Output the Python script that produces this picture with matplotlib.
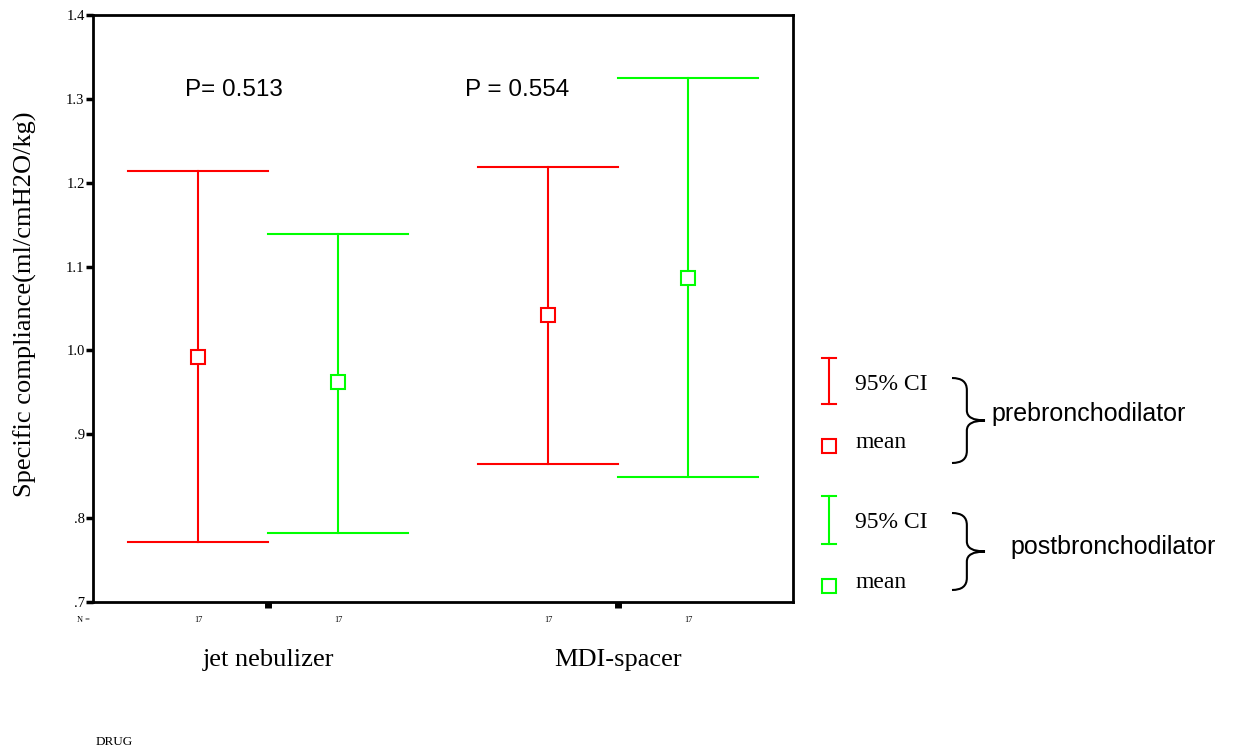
import matplotlib
matplotlib.use("Agg")
import matplotlib.pyplot as plt
from matplotlib.path import Path
from matplotlib.patches import PathPatch
from matplotlib.lines import Line2D

# ---- data ----
groups = ["jet nebulizer", "MDI-spacer"]
series = ["prebronchodilator", "postbronchodilator"]
colors = ["#ff0000", "#00ff00"]
means = [[0.992, 1.042], [0.962, 1.086]]      # [series][group]
lower = [[0.772, 0.865], [0.782, 0.849]]
upper = [[1.214, 1.219], [1.139, 1.325]]
n_values = [[17, 17], [17, 17]]
p_values = ["P= 0.513", "P = 0.554"]
yticks = [0.7, 0.8, 0.9, 1.0, 1.1, 1.2, 1.3, 1.4]
ytick_labels = [".7", ".8", ".9", "1.0", "1.1", "1.2", "1.3", "1.4"]

W, H = 1234, 753
fig = plt.figure(figsize=(W / 100, H / 100), dpi=100)
ax = fig.add_axes([93 / W, 1 - 602 / H, 700 / W, 587 / H])

group_centers = [0.25, 0.75]
offsets = [-0.1, 0.1]
cap = 0.1
serif = "Liberation Serif"
sans = "Liberation Sans"

for s in range(2):
    for g in range(2):
        x = group_centers[g] + offsets[s]
        c = colors[s]
        ax.plot([x, x], [lower[s][g], upper[s][g]], color=c, lw=1.5)
        ax.plot([x - cap, x + cap], [upper[s][g], upper[s][g]], color=c, lw=1.5)
        ax.plot([x - cap, x + cap], [lower[s][g], lower[s][g]], color=c, lw=1.5)
        ax.plot([x], [means[s][g]], marker="s", ms=10, mfc="white", mec=c, mew=1.5)
        ax.text(x, -0.031, str(n_values[s][g]), transform=ax.get_xaxis_transform(),
                ha="center", va="center", fontsize=6, family=serif)

ax.text(-0.005, -0.031, "N =", transform=ax.get_xaxis_transform(),
        ha="right", va="center", fontsize=6, family=serif)

ax.set_xlim(0, 1)
ax.set_ylim(0.7, 1.4)
ax.set_yticks(yticks)
ax.set_yticklabels(ytick_labels, family=serif, fontsize=10.5)
ax.set_xticks(group_centers)
ax.set_xticklabels([])
ax.tick_params(axis="y", direction="out", length=5, width=2.5, pad=1)
ax.tick_params(axis="x", direction="out", length=4, width=5, pad=3)
for sp in ax.spines.values():
    sp.set_linewidth(2)

for g, lbl in enumerate(groups):
    fig.text((93 + 700 * group_centers[g]) / W, 1 - 660 / H, lbl, ha="center", va="center",
             fontsize=19, family=serif)

ax.text(0.131, 1.31, p_values[0], ha="left", va="center", fontsize=17.5, family=sans)
ax.text(0.531, 1.31, p_values[1], ha="left", va="center", fontsize=17.5, family=sans)

fig.text(25 / W, 1 - 304 / H, "Specific compliance(ml/cmH2O/kg)", rotation=90,
         ha="center", va="center", fontsize=19, family=serif)
fig.text(96 / W, 1 - 742 / H, "DRUG", ha="left", va="center", fontsize=9.5, family=serif)

# ---- legend in pixel coordinates ----
def px(x, y):
    return x / W, 1 - y / H

def ci_glyph(x, y0, y1, c):
    fig.add_artist(Line2D([x / W, x / W], [1 - y0 / H, 1 - y1 / H], color=c, lw=1.5))
    for y in (y0, y1):
        fig.add_artist(Line2D([(x - 7) / W, (x + 7) / W], [1 - y / H, 1 - y / H], color=c, lw=1.5))

def brace(x0, y0, y1, w):
    ym = (y0 + y1) / 2
    xm = x0 + w * 0.45
    verts = [(x0, y0), (xm, y0), (xm, y0 + 12),
             (xm, ym - 10),
             (xm, ym), (x0 + w, ym),
             (xm, ym), (xm, ym + 10),
             (xm, y1 - 12),
             (xm, y1), (x0, y1)]
    codes = [Path.MOVETO, Path.CURVE3, Path.CURVE3,
             Path.LINETO,
             Path.CURVE3, Path.CURVE3,
             Path.CURVE3, Path.CURVE3,
             Path.LINETO,
             Path.CURVE3, Path.CURVE3]
    verts = [px(a, b) for a, b in verts]
    fig.add_artist(PathPatch(Path(verts, codes), fc="none", ec="black", lw=1.5,
                             transform=fig.transFigure))

legend_rows = [
    (0, 358, 404, 385, 446, 443, 378, 463, 991, 414),
    (1, 496, 544, 523, 586, 583, 513, 590, 1010, 547),
]
for s, ci0, ci1, ciy, mky, meany, b0, b1, lx, ly in legend_rows:
    c = colors[s]
    ci_glyph(829, ci0, ci1, c)
    fig.text(855 / W, 1 - ciy / H, "95% CI", ha="left", va="center", fontsize=17, family=serif)
    fig.add_artist(Line2D([829 / W], [1 - mky / H], marker="s", ms=10, mfc="white", mec=c, mew=1.5))
    fig.text(855 / W, 1 - meany / H, "mean", ha="left", va="center", fontsize=17, family=serif)
    brace(952, b0, b1, 33)
    fig.text(lx / W, 1 - ly / H, series[s], ha="left", va="center", fontsize=18, family=sans)

fig.savefig("out.png", dpi=100)
